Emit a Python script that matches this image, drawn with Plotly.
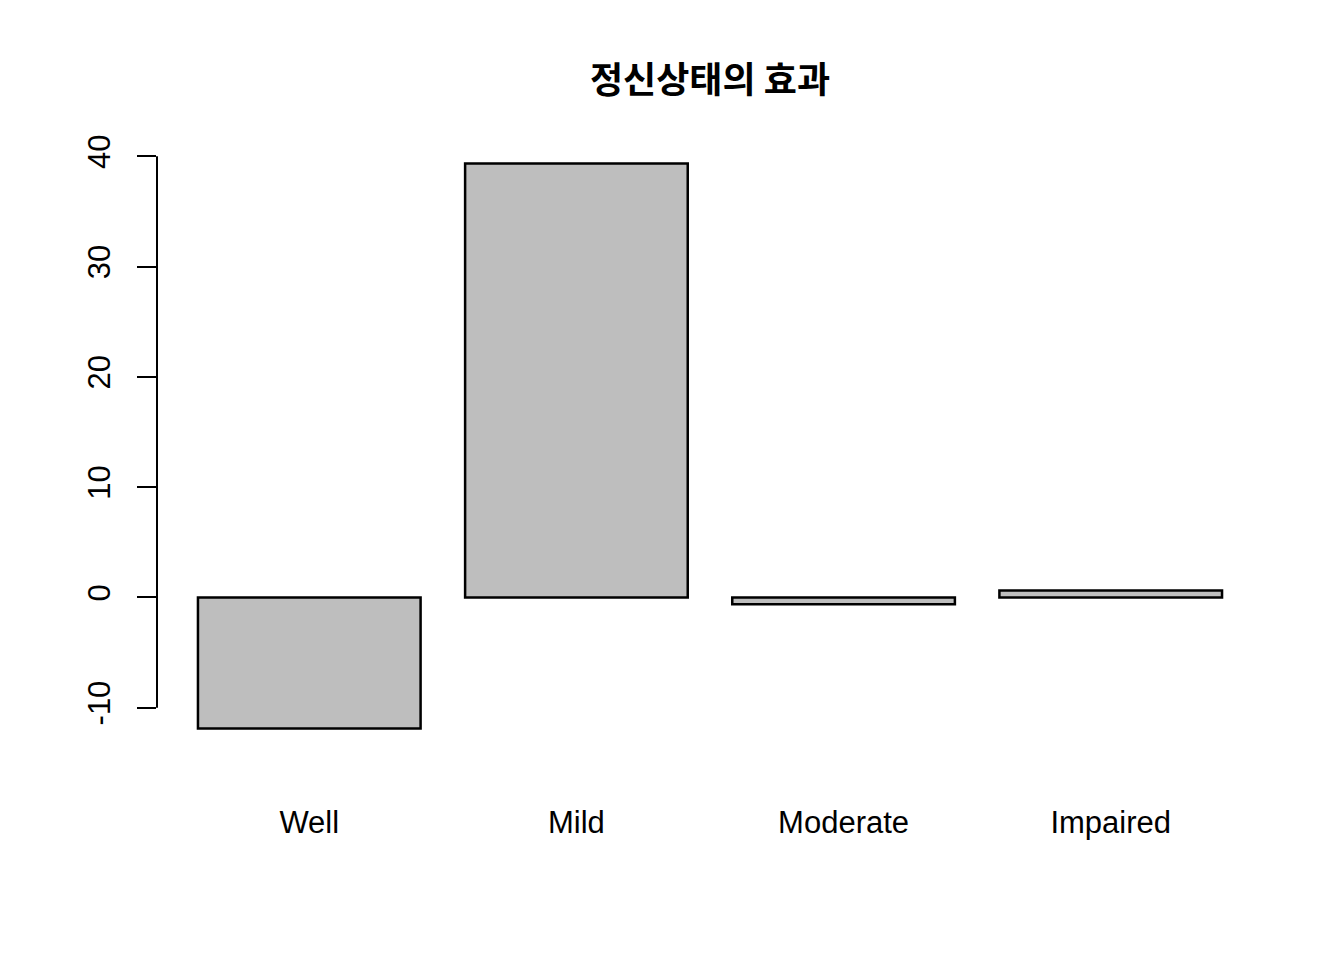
import plotly.graph_objects as go

categories = ["Well", "Mild", "Moderate", "Impaired"]
values = [-11.88, 39.34, -0.63, 0.63]
y_ticks = [-10, 0, 10, 20, 30, 40]
title_text = "정신상태의 효과"

# R barplot layout: width 1, space 0.2
positions = [0.2 + 0.5 + i * 1.2 for i in range(len(categories))]
x_lo, x_hi = 0.2, 0.2 + 1.2 * len(categories) - 0.2
x_pad = 0.04 * (x_hi - x_lo)
y_lo, y_hi = min(values), max(values)
y_pad = 0.04 * (y_hi - y_lo)

fig = go.Figure(go.Bar(
    x=positions, y=values, width=1.0,
    marker=dict(color="#BEBEBE", line=dict(color="black", width=2.5)),
))

fig.update_layout(
    width=1344, height=960,
    margin=dict(l=157, r=81, t=141, b=209),
    plot_bgcolor="white", paper_bgcolor="white",
    showlegend=False,
    font=dict(family="Liberation Sans, Arial, sans-serif", size=31, color="black"),
    title=dict(text=title_text, x=0.5, xref="paper", y=1 - 80 / 960, yref="container",
               xanchor="center", yanchor="middle",
               font=dict(family="Noto Sans CJK KR", size=36, color="black", weight="bold")),
    xaxis=dict(range=[x_lo - x_pad, x_hi + x_pad], tickvals=positions, ticktext=categories,
               showline=False, showgrid=False, zeroline=False,
               ticks="outside", ticklen=44, tickcolor="rgba(0,0,0,0)"),
    yaxis=dict(range=[y_lo - y_pad, y_hi + y_pad], tickvals=y_ticks,
               ticktext=[str(v) for v in y_ticks],
               showline=False, showgrid=False, zeroline=False,
               ticks="outside", ticklen=19, tickwidth=2, tickcolor="black",
               tickangle=-90, ticklabelstandoff=15),
)

fig.add_shape(type="line", xref="paper", yref="y", x0=0, x1=0,
              y0=y_ticks[0], y1=y_ticks[-1], line=dict(color="black", width=2))

fig.write_html("out.html")
